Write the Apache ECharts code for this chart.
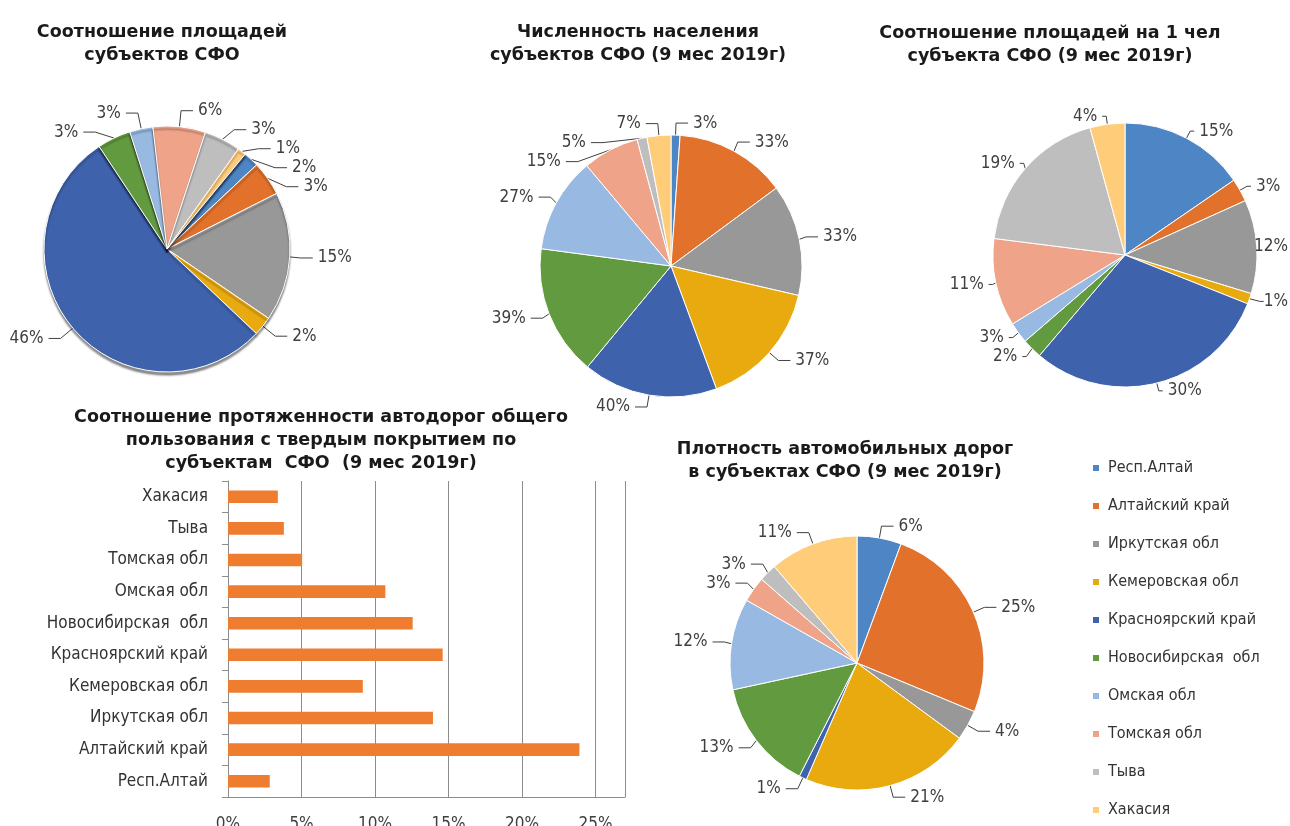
<!DOCTYPE html>
<html>
<head>
<meta charset="utf-8">
<script src="https://cdn.jsdelivr.net/npm/echarts@6.0.0/dist/echarts.min.js"></script>
<style>
  html, body { margin: 0; padding: 0; background: #fff; }
  #chart { width: 1290px; height: 826px; }
</style>
</head>
<body>
<div id="chart"></div>
<script type="text/javascript">
// субъекты СФО, в порядке легенды
var regions = ['Респ.Алтай', 'Алтайский край', 'Иркутская обл', 'Кемеровская обл', 'Красноярский край',
  'Новосибирская  обл', 'Омская обл', 'Томская обл', 'Тыва', 'Хакасия'];
var colors = ['#4E86C5', '#E2712B', '#989898', '#E9AA10', '#3E62AC', '#629A3F', '#98B9E1', '#EFA48A', '#BEBEBE', '#FFCC7A'];

// размеры секторов и подписи к ним
var areaShare = [7.3, 16.3, 61.2, 9.1, 193.1, 15.9, 11, 24.8, 17.3, 4];
var areaLabels = ['2%', '3%', '15%', '2%', '46%', '3%', '3%', '6%', '3%', '1%'];

var popShare = [4, 49.5, 49.5, 56.7, 59.9, 58, 42.4, 25, 4.4, 10.6];
var popLabels = ['3%', '33%', '33%', '37%', '40%', '39%', '27%', '15%', '5%', '7%'];

var areaPerCapita = [55.5, 10.2, 41.3, 4.7, 108.7, 8.8, 9.3, 38.7, 67.4, 15.4];
var areaPerCapitaLabels = ['15%', '3%', '12%', '1%', '30%', '2%', '3%', '11%', '19%', '4%'];

var roadDensity = [20.3, 92.2, 13.8, 77.2, 3.5, 50.8, 41.8, 11.7, 8.1, 40.6];
var roadDensityLabels = ['6%', '25%', '4%', '21%', '1%', '13%', '12%', '3%', '3%', '11%'];

// протяженность дорог с твердым покрытием, %
var roadShare = [2.84, 23.9, 13.94, 9.17, 14.6, 12.56, 10.7, 5.04, 3.8, 3.39];

var condensed = '"DejaVu Sans Condensed", "DejaVu Sans", sans-serif';

function pieSeries(values, labels, center, radius, startAngle, lineLen, lineLen2, extra) {
  var s = {
    type: 'pie',
    center: center,
    radius: radius,
    startAngle: startAngle,
    clockwise: true,
    silent: true,
    data: values.map(function (v, i) {
      return { name: regions[i], value: v, itemStyle: { color: colors[i] } };
    }),
    itemStyle: { borderColor: '#fff', borderWidth: 1 },
    label: {
      show: true,
      position: 'outside',
      overflow: 'none',
      formatter: function (p) { return labels[p.dataIndex]; },
      fontFamily: condensed,
      fontSize: 17,
      color: '#404040'
    },
    labelLine: { show: true, length: lineLen, length2: lineLen2, lineStyle: { color: '#404040', width: 1 } },
    // подписи у правого края не должны уходить за холст
    labelLayout: function (p) {
      var r = p.labelRect;
      if (r.x + r.width > 1288) return { x: 1288 - r.width };
    }
  };
  if (extra) Object.assign(s.itemStyle, extra);
  return s;
}

function title(text, x, y) {
  return {
    text: text,
    left: x,
    top: y,
    textAlign: 'center',
    textStyle: { fontFamily: '"DejaVu Sans", sans-serif', fontSize: 17.5, fontWeight: 'bold', color: '#1a1a1a', lineHeight: 23 }
  };
}

var myChart = echarts.init(document.getElementById('chart'));
var option = {
  backgroundColor: '#fff',
  animation: false,
  title: [
    title('Соотношение площадей\nсубъектов СФО', 157, 16),
    title('Численность населения\nсубъектов СФО (9 мес 2019г)', 633, 16),
    title('Соотношение площадей на 1 чел\nсубъекта СФО (9 мес 2019г)', 1045, 17),
    title('Соотношение протяженности автодорог общего\nпользования с твердым покрытием по\nсубъектам  СФО  (9 мес 2019г)', 316, 401),
    title('Плотность автомобильных дорог\nв субъектах СФО (9 мес 2019г)', 840, 433)
  ],
  legend: {
    orient: 'vertical',
    left: 1091,
    top: 460,
    padding: 0,
    data: regions,
    icon: 'rect',
    itemWidth: 8,
    itemHeight: 8,
    itemGap: 22,
    selectedMode: false,
    textStyle: { fontFamily: condensed, fontSize: 16, color: '#333', padding: [0, 0, 0, 3] }
  },
  grid: { left: 228, right: 665, top: 481, bottom: 29, outerBoundsMode: 'none' },
  xAxis: {
    type: 'value',
    min: 0,
    max: 27,
    interval: 5,
    axisLine: { show: true, lineStyle: { color: '#8c8c8c' } },
    axisTick: { show: false },
    splitLine: { show: true, lineStyle: { color: '#8c8c8c', width: 1 } },
    axisLabel: { formatter: '{value}%', showMaxLabel: false, margin: 19, fontFamily: condensed, fontSize: 17, color: '#404040' }
  },
  yAxis: {
    type: 'category',
    data: regions,
    axisLine: { show: true, lineStyle: { color: '#8c8c8c' } },
    axisTick: { show: true, length: 6, lineStyle: { color: '#8c8c8c' } },
    axisLabel: { margin: 20, fontFamily: condensed, fontSize: 17, color: '#333' }
  },
  series: [
    pieSeries(areaShare, areaLabels, [167, 249], 123, 50.5, 16, 12, { shadowColor: 'rgba(0,0,0,0.45)', shadowOffsetY: 3, shadowBlur: 2 }),
    pieSeries(popShare, popLabels, [671, 266], 131, 90, 12, 12),
    pieSeries(areaPerCapita, areaPerCapitaLabels, [1125, 255], 132, 90, 8, 4),
    pieSeries(roadDensity, roadDensityLabels, [857, 663], 127, 90, 12, 12),
    {
      type: 'bar',
      data: roadShare,
      barWidth: '40%',
      silent: true,
      itemStyle: { color: '#EE7D30' }
    }
  ]
};
myChart.setOption(option);
</script>
</body>
</html>
